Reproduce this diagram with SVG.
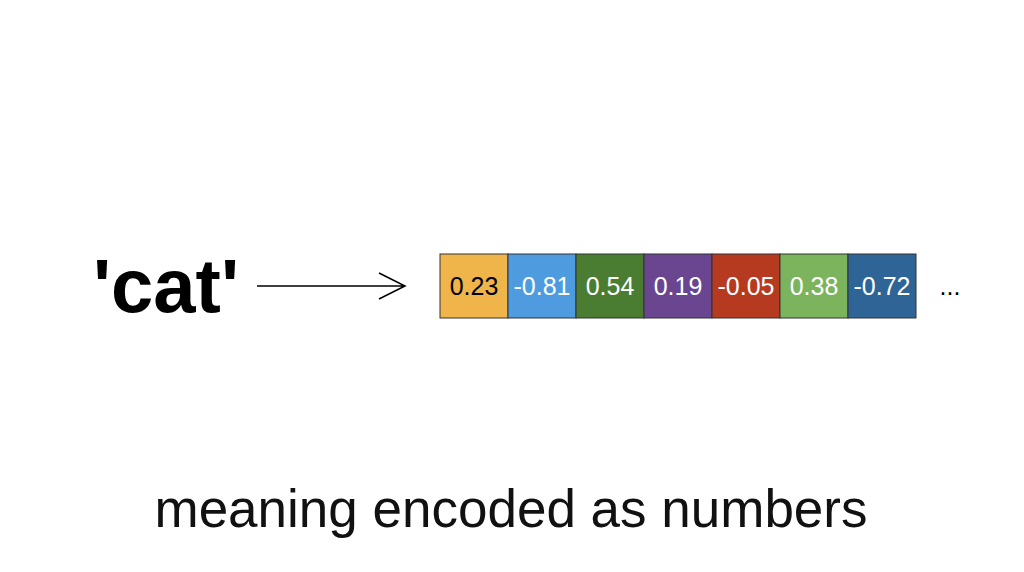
<svg xmlns="http://www.w3.org/2000/svg" width="1024" height="572" viewBox="0 0 1024 572">
<style>
.c{stroke:#333;stroke-width:1}
.t{font-family:"Liberation Sans",Arial,sans-serif;font-size:25px;text-anchor:middle;fill:#fff}
</style>
<rect width="1024" height="572" fill="#fff"/>
<g id="word"><text x="93" y="312" font-family="Liberation Sans,Arial,sans-serif" font-weight="bold" font-size="76" fill="#000">'cat'</text></g>
<g id="connectors"><path d="M257 286H405M379 273L405 286L379 299" fill="none" stroke="#000" stroke-width="1.5"/></g>
<g id="vector">
<rect class="c" x="440" y="254" width="68" height="64" fill="#efb44a"/>
<rect class="c" x="508" y="254" width="68" height="64" fill="#4f9be0"/>
<rect class="c" x="576" y="254" width="68" height="64" fill="#4a7d32"/>
<rect class="c" x="644" y="254" width="68" height="64" fill="#6a4590"/>
<rect class="c" x="712" y="254" width="68" height="64" fill="#b63a1f"/>
<rect class="c" x="780" y="254" width="68" height="64" fill="#7cb35d"/>
<rect class="c" x="848" y="254" width="68" height="64" fill="#2f6496"/>
<text class="t" x="474" y="295" style="fill:#000">0.23</text>
<text class="t" x="542" y="295">-0.81</text>
<text class="t" x="610" y="295">0.54</text>
<text class="t" x="678" y="295">0.19</text>
<text class="t" x="746" y="295">-0.05</text>
<text class="t" x="814" y="295">0.38</text>
<text class="t" x="882" y="295">-0.72</text>
<text x="950" y="295" font-family="Liberation Sans,Arial,sans-serif" font-size="25" text-anchor="middle" fill="#000">...</text>
</g>
<g id="caption"><text x="511" y="527" font-family="Liberation Sans,Arial,sans-serif" font-size="53" text-anchor="middle" fill="#111">meaning encoded as numbers</text></g>
</svg>
